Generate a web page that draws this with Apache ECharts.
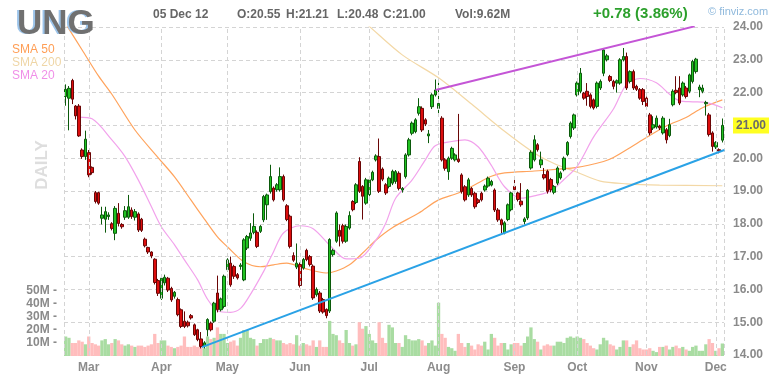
<!DOCTYPE html>
<html><head><meta charset="utf-8">
<script src="https://cdn.jsdelivr.net/npm/echarts/dist/echarts.min.js"></script>
<style>html,body{margin:0;padding:0;background:#fff}#c{width:773px;height:386px}</style>
</head><body><div id="c"></div>
<script>
// ---- trading days (categories) ----
const holidays = ['2012-04-06','2012-05-28','2012-07-04','2012-09-03','2012-10-29','2012-10-30','2012-11-22'];
const dates = [];
for (let t = Date.UTC(2012,1,21); t <= Date.UTC(2012,11,5); t += 86400000) {
  const d = new Date(t), wd = d.getUTCDay(), s = d.toISOString().slice(0,10);
  if (wd !== 0 && wd !== 6 && holidays.indexOf(s) < 0) dates.push(s);
}
const monthLabels = ['Mar','Apr','May','Jun','Jul','Aug','Sep','Oct','Nov','Dec'];
const monthStarts = [7,29,49,71,92,113,136,155,176,197];
const priceTicks = [14,15,16,17,18,19,20,21,22,23,24];
const volTicks = [10,20,30,40,50];

// ---- OHLC ----
const open = [
21.88,21.83,22.37,21.59,21.59,20.25,20.05,20.17,19.72,18.95,
18.95,18.17,18.14,18.22,18.00,17.71,18.32,17.98,18.20,18.20,
18.42,18.20,18.30,18.14,17.53,17.28,17.14,16.92,16.27,15.73,
16.20,16.34,16.03,15.79,15.69,15.38,15.03,15.00,15.20,14.92,
14.77,14.49,14.28,14.77,14.97,15.03,15.89,15.38,15.48,16.60,
16.80,16.70,16.45,16.70,16.29,17.26,17.56,17.74,17.74,17.77,
18.12,18.58,18.98,19.09,19.04,19.04,19.44,18.55,18.23,17.03,
16.68,16.76,16.65,17.19,17.00,16.71,15.84,15.89,15.69,15.39,
15.34,17.06,17.47,17.80,17.94,17.47,17.87,18.68,18.65,19.90,
19.14,18.63,18.89,19.34,19.95,20.05,19.67,19.19,19.14,19.24,
19.29,19.54,19.03,19.44,20.10,20.76,20.81,21.37,21.52,21.17,
20.68,21.57,21.93,21.52,21.22,19.95,19.59,20.00,19.95,19.97,
19.49,19.13,18.88,19.08,18.93,18.73,18.93,19.03,19.15,19.18,
19.03,18.42,18.12,17.72,18.13,18.43,19.14,18.94,18.69,18.07,
18.18,19.70,19.95,20.41,19.80,19.50,19.60,19.35,18.96,19.24,
19.40,19.65,20.11,20.66,20.92,21.93,22.04,21.98,22.04,21.93,
21.78,21.58,22.14,22.59,23.00,22.49,22.34,22.29,22.29,23.00,
23.10,22.34,22.64,22.19,22.09,22.09,21.83,21.32,20.92,20.95,
20.98,20.77,20.87,20.69,21.63,22.07,22.14,21.93,22.14,22.04,
22.34,22.64,22.09,22.04,21.66,21.32,20.77,20.34,20.26,20.55];
const close = [
22.10,22.13,21.80,21.29,20.68,20.05,20.58,19.49,19.56,18.68,
18.63,18.27,18.37,18.27,17.86,18.47,18.01,17.91,18.40,18.52,
18.22,18.37,17.81,17.80,17.33,17.14,17.02,16.21,15.88,16.34,
16.37,15.98,15.68,15.91,15.23,14.87,14.87,14.89,15.13,14.62,
14.47,14.26,14.37,15.08,14.77,15.58,15.38,15.71,16.40,16.90,
16.14,16.40,16.35,16.74,17.51,17.61,17.72,17.92,17.31,17.92,
18.83,18.88,19.44,18.73,19.19,19.44,18.73,18.13,17.31,16.89,
16.80,16.12,16.91,16.91,16.76,15.74,16.00,15.34,15.31,15.20,
17.52,17.19,18.33,17.62,17.47,17.92,18.25,18.43,19.19,18.99,
18.84,19.34,19.34,19.57,20.07,18.99,19.36,18.94,19.39,19.60,
19.59,19.08,19.08,20.10,20.56,21.07,21.17,21.57,20.86,21.04,
20.74,21.93,22.08,21.67,19.95,19.69,20.00,20.30,20.10,19.90,
18.98,18.73,19.34,18.88,18.52,18.65,18.73,19.15,19.39,19.29,
18.42,18.12,17.97,18.03,18.58,18.94,19.04,18.74,18.58,18.15,
19.02,20.18,20.56,20.26,19.95,19.40,18.99,19.04,19.14,19.70,
19.55,20.00,20.48,21.07,21.32,22.29,22.59,21.83,21.88,21.58,
21.53,22.29,22.34,23.30,23.12,22.37,22.19,22.36,23.00,23.10,
22.14,22.64,22.14,22.10,21.83,21.73,21.58,20.77,21.02,21.22,
20.92,21.22,20.56,21.02,22.04,22.00,21.68,22.29,21.88,22.54,
22.95,23.02,22.17,22.14,21.70,20.72,20.36,20.48,20.22,21.00];
const low = [
21.60,20.85,21.65,21.18,20.65,19.98,19.95,19.42,19.50,18.62,
18.58,17.98,17.73,18.12,17.80,17.50,17.92,17.85,18.12,18.15,
18.15,18.10,17.75,17.75,17.28,17.08,16.95,16.15,15.80,15.68,
16.12,15.92,15.62,15.72,15.18,14.82,14.82,14.84,15.08,14.58,
14.42,14.20,14.20,14.57,14.72,14.98,15.30,15.33,15.42,16.55,
16.08,16.32,16.30,16.60,16.25,17.20,17.48,17.68,17.26,17.72,
18.05,18.12,18.92,18.68,18.98,18.98,18.68,18.08,17.25,16.84,
16.62,16.06,16.60,16.86,16.70,15.68,15.78,15.28,15.26,15.12,
15.28,17.00,17.42,17.31,17.40,17.42,17.82,18.38,18.60,18.94,
18.13,18.58,18.84,19.30,19.90,18.94,19.30,18.88,19.08,19.18,
19.22,19.02,18.95,19.38,20.05,20.70,20.76,21.30,20.80,20.98,
20.46,21.50,21.88,21.37,19.90,19.62,19.34,19.95,19.90,19.86,
18.92,18.68,18.82,18.82,18.46,18.60,18.68,18.98,19.10,19.14,
18.36,18.06,17.70,17.68,18.08,18.38,18.98,18.68,18.52,17.98,
18.12,19.65,19.90,20.20,19.70,19.35,18.92,18.96,18.90,19.18,
19.35,19.60,20.06,20.60,20.86,21.88,21.98,21.78,21.60,21.52,
21.48,21.52,22.08,22.50,22.95,22.32,22.10,22.00,22.24,22.95,
22.08,22.28,22.08,22.05,21.78,21.62,21.50,20.70,20.86,20.90,
20.86,20.72,20.45,20.64,21.58,21.95,21.62,21.88,21.82,21.98,
22.28,22.58,21.86,21.98,21.30,20.66,20.20,20.28,20.15,20.48];
const high = [
22.25,22.20,22.42,21.62,21.65,20.30,20.84,20.25,19.75,19.00,
18.98,18.52,18.52,18.35,18.05,18.54,18.63,18.02,18.54,18.88,
18.50,18.45,18.35,18.18,17.58,17.30,17.16,16.95,16.32,16.40,
16.45,16.38,16.08,15.95,15.75,15.42,15.33,15.05,15.25,14.96,
14.80,14.70,14.42,15.12,15.02,15.62,16.42,15.75,16.45,16.95,
17.00,16.75,16.50,16.80,17.56,17.66,18.02,18.32,17.80,17.96,
18.88,18.92,19.80,19.14,19.24,19.72,19.50,18.60,18.28,17.13,
17.40,16.82,16.96,17.24,17.05,16.76,16.06,15.95,15.74,15.42,
17.56,17.24,18.38,17.98,18.00,17.98,18.38,18.72,19.24,20.03,
19.18,19.40,19.40,19.62,20.12,20.60,19.72,19.24,19.44,19.65,
19.64,19.60,19.12,20.15,20.62,21.12,21.22,21.83,21.58,21.22,
20.86,21.98,22.40,22.30,21.28,20.00,20.05,20.35,20.15,21.35,
19.54,19.18,19.40,19.12,18.98,18.78,18.98,19.20,19.44,19.34,
19.08,18.48,18.16,18.08,18.62,18.98,19.40,18.98,19.24,18.20,
19.06,20.24,20.70,20.46,20.20,19.70,19.65,19.40,19.18,19.75,
19.60,20.05,20.52,21.12,21.36,22.34,22.75,22.02,22.29,21.98,
21.82,22.34,22.40,23.35,23.18,22.54,22.39,22.40,23.05,23.36,
23.22,22.68,22.70,22.24,22.14,22.14,21.88,21.38,21.28,21.30,
21.02,21.28,20.92,21.20,22.10,22.50,22.50,22.34,22.20,22.58,
23.00,23.06,22.24,22.24,21.75,21.38,20.82,20.52,20.30,21.21];
// volume in millions
const volume = [
15,14,10,10,12,11,9,15,10,9,
8,12,13,9,10,13,12,9,8,9,
8,7,8,8,7,8,9,17,10,12,
12,8,7,6,7,8,15,7,7,8,
7,9,6,15,13,14,22,17,17,10,
11,12,8,14,20,20,14,13,8,10,
13,13,14,13,12,12,10,9,10,9,
16,8,10,9,8,12,7,12,7,7,
27,17,16,12,10,20,10,8,9,26,
21,23,17,12,10,26,14,10,24,22,
10,10,7,16,13,12,12,13,12,8,
10,12,8,41,17,14,7,6,4,17,
10,7,10,8,5,9,8,11,5,17,
14,8,10,10,5,9,10,10,8,10,
15,22,13,11,5,8,9,8,8,11,
11,10,14,15,14,15,14,13,10,8,
6,5,9,14,12,9,8,5,7,12,
12,7,9,12,6,5,5,6,4,3,
7,7,8,5,7,8,6,7,5,4,
7,8,4,4,9,13,10,4,6,9.62];

// ---- moving averages: [dayIndex, price] ----
const sma50 = [[0,24.1],[5,23.3],[10,22.5],[14,21.95],[21,20.86],[28,20.02],[33,19.43],[38,18.72],[42,18.15],[46,17.6],[49,17.3],[54,16.84],[59,16.69],[63,16.75],[67,16.8],[72,16.65],[79,16.5],[82,16.56],[86,16.75],[90,17.11],[94,17.5],[99,17.88],[107,18.33],[113,18.73],[119,18.94],[124,19.19],[129,19.45],[133,19.55],[142,19.61],[155,19.72],[163,19.9],[166,20.02],[171,20.32],[176,20.63],[182,20.98],[188,21.24],[193,21.54],[199,21.78]];
const sma200 = [[90,24.2],[92,24.02],[102,23.15],[113,22.45],[123,21.65],[133,20.82],[142,20.16],[148,19.84],[155,19.57],[162,19.3],[170,19.22],[180,19.18],[199,19.16]];
const sma20 = [[4,21.25],[8,21.2],[14,20.56],[18,20.05],[22,19.34],[26,18.52],[29,17.91],[33,17.36],[36,16.9],[40,16.29],[43,15.7],[46,15.35],[50,15.3],[53,15.42],[56,15.85],[60,16.55],[63,17.15],[66,17.72],[71,17.94],[75,17.85],[80,17.35],[85,16.93],[89,16.95],[94,17.5],[97,18.02],[100,18.78],[105,19.34],[109,19.95],[112,20.38],[117,20.51],[121,20.56],[125,20.35],[129,19.78],[133,19.13],[138,18.78],[142,18.85],[147,19.0],[151,19.35],[155,19.75],[160,20.65],[166,21.5],[170,22.26],[174,22.43],[179,22.3],[183,21.95],[186,21.75],[190,21.72],[194,21.7],[199,21.54]];
// trend lines
const supportLine = [[41.3,14.24],[199.6,20.25]];
const resistLine = [[112.1,22.08],[190.6,24.02]];

const FONT = '"Liberation Sans", Arial, sans-serif';
const candles = dates.map((d,i)=>[open[i],close[i],low[i],high[i]]);
const volData = volume.map((v,i)=>({value:v, itemStyle:{color: close[i] >= open[i] ? '#a9dca2' : '#ffbdbd'}}));

const chart = echarts.init(document.getElementById('c'), null, {renderer:'canvas'});
const gridMark = [-0.5].concat(monthStarts).concat([199.5]).map(v=>({xAxis:v}));

chart.setOption({
  animation:false,
  backgroundColor:'#ffffff',
  grid:[
    {left:64, right:49, top:27, bottom:31},
    {left:64, right:49, top:226, bottom:30}
  ],
  xAxis:[
    {type:'category', gridIndex:0, data:dates, boundaryGap:true, show:false},
    {type:'value', gridIndex:0, min:-0.5, max:199.5, show:false},
    {type:'category', gridIndex:1, data:dates, boundaryGap:true,
     axisLine:{show:false}, axisTick:{show:false}, splitLine:{show:false},
     axisLabel:{interval:(idx)=>monthStarts.indexOf(idx)>=0, margin:6,
       formatter:(v,idx)=>{const k=monthStarts.indexOf(idx);return k>=0?monthLabels[k]:'';},
       color:'#8c8c8c', fontWeight:'bold', fontSize:12, fontFamily:FONT}}
  ],
  yAxis:[
    {type:'value', gridIndex:0, position:'right', min:priceTicks[0], max:priceTicks[priceTicks.length-1], interval:1,
     axisLine:{show:false}, axisTick:{show:false},
     splitLine:{show:true, lineStyle:{color:'#d4d4d4', type:[4,3], width:1}},
     axisLabel:{margin:9, color:'#8a8a8a', fontWeight:'bold', fontSize:12, fontFamily:FONT,
       formatter:(v)=> v===21 ? '{hl|21.00}' : v.toFixed(2),
       rich:{hl:{backgroundColor:'#ffff22', color:'#6a6a6a', fontWeight:'bold', fontSize:12, fontFamily:FONT, padding:[2,3,2,3]}}}},
    {type:'value', gridIndex:1, position:'left', min:0, max:100, interval:10,
     axisLine:{show:false}, axisTick:{show:false}, splitLine:{show:false},
     axisLabel:{margin:7, color:'#8a8a8a', fontWeight:'bold', fontSize:12, fontFamily:FONT,
       formatter:(v)=> volTicks.indexOf(v)>=0 ? v+'M -' : ''}}
  ],
  series:[
    {type:'bar', xAxisIndex:2, yAxisIndex:1, data:volData, barCategoryGap:'0%', z:1, silent:true},
    {type:'line', xAxisIndex:1, yAxisIndex:0, data:[], z:2, silent:true,
     markLine:{silent:true, symbol:['none','none'], label:{show:false},
       lineStyle:{color:'#d4d4d4', type:[4,3], width:1}, data:gridMark}},
    {type:'line', name:'SMA 200', xAxisIndex:1, yAxisIndex:0, data:sma200, showSymbol:false, smooth:0.3, z:3,
     lineStyle:{color:'#f3d8a6', width:1.2}},
    {type:'line', name:'SMA 50', xAxisIndex:1, yAxisIndex:0, data:sma50, showSymbol:false, smooth:0.3, z:3,
     lineStyle:{color:'#ffa35c', width:1.2}},
    {type:'line', name:'SMA 20', xAxisIndex:1, yAxisIndex:0, data:sma20, showSymbol:false, smooth:0.3, z:3,
     lineStyle:{color:'#f2a2ec', width:1.2}},
    {type:'candlestick', xAxisIndex:0, yAxisIndex:0, data:candles, barWidth:3, z:4,
     itemStyle:{color:'#21c321', color0:'#dd0d0d', borderColor:'#0b5a0b', borderColor0:'#6a0606', borderWidth:1}},
    {type:'line', xAxisIndex:1, yAxisIndex:0, data:supportLine, showSymbol:false, z:6,
     lineStyle:{color:'#2aa2e6', width:2}},
    {type:'line', xAxisIndex:1, yAxisIndex:0, data:resistLine, showSymbol:false, z:6,
     lineStyle:{color:'#c455d6', width:2}}
  ],
  graphic:[
    {type:'text', left:15, top:7, z:10, style:{text:'UNG', font:'bold 35px '+FONT, fill:'#9cc4ea'}},
    {type:'text', left:17, top:7, z:11, style:{text:'UNG', font:'bold 35px '+FONT, fill:'#707070'}},
    {type:'text', left:153, top:9, style:{text:'05 Dec 12', font:'bold 12px '+FONT, fill:'#666666'}},
    {type:'text', left:237, top:9, style:{text:'O:20.55', font:'bold 12px '+FONT, fill:'#666666'}},
    {type:'text', left:286, top:9, style:{text:'H:21.21', font:'bold 12px '+FONT, fill:'#666666'}},
    {type:'text', left:337, top:9, style:{text:'L:20.48', font:'bold 12px '+FONT, fill:'#666666'}},
    {type:'text', left:383, top:9, style:{text:'C:21.00', font:'bold 12px '+FONT, fill:'#666666'}},
    {type:'text', left:455, top:9, style:{text:'Vol:9.62M', font:'bold 12px '+FONT, fill:'#666666'}},
    {type:'text', left:593, top:6, style:{text:'+0.78 (3.86%)', font:'bold 15px '+FONT, fill:'#2ca02c'}},
    {type:'text', left:708, top:6, style:{text:'\u00a9 finviz.com', font:'11px '+FONT, fill:'#8fb9dc'}},
    {type:'text', left:12, top:44, style:{text:'SMA 50', font:'12px '+FONT, fill:'#ff9e55'}},
    {type:'text', left:12, top:57, style:{text:'SMA 200', font:'12px '+FONT, fill:'#efd6a6'}},
    {type:'text', left:12, top:70, style:{text:'SMA 20', font:'12px '+FONT, fill:'#f08fe8'}},
    {type:'text', x:42, y:165, rotation:Math.PI/2,
     style:{text:'DAILY', font:'bold 17px '+FONT, fill:'#dedede', align:'center', verticalAlign:'middle', textAlign:'center', textVerticalAlign:'middle'}}
  ]
});
</script></body></html>
